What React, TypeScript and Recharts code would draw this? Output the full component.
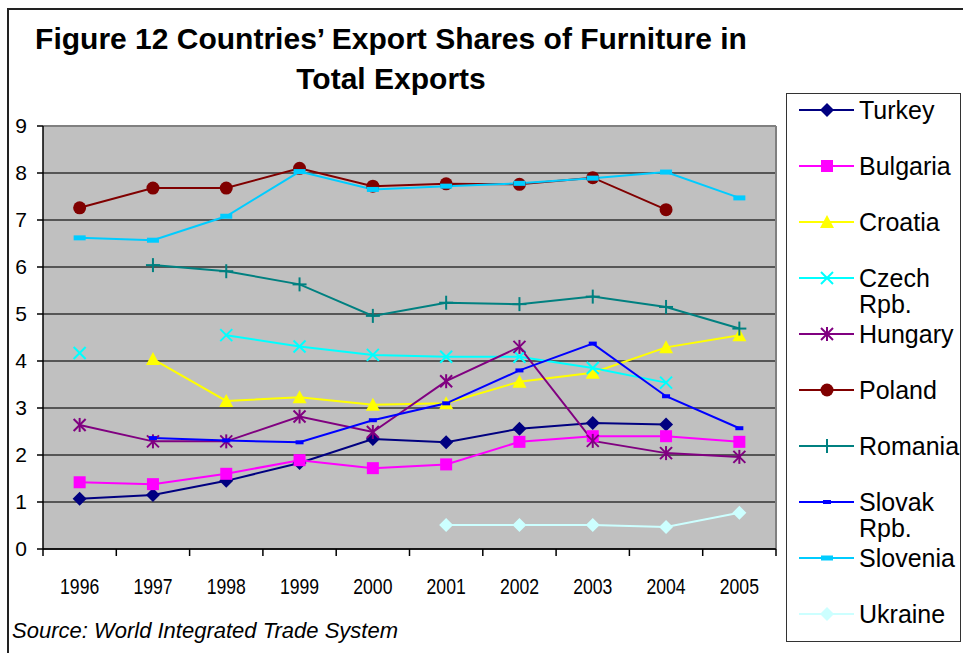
import React from "react";
import {
  LineChart,
  Line,
  XAxis,
  YAxis,
  CartesianGrid,
  Legend,
  ReferenceLine,
} from "recharts";

const years = ["1996", "1997", "1998", "1999", "2000", "2001", "2002", "2003", "2004", "2005"];

const turkey = [1.07, 1.15, 1.45, 1.83, 2.34, 2.27, 2.56, 2.68, 2.65, null];
const bulgaria = [1.42, 1.38, 1.6, 1.89, 1.72, 1.8, 2.28, 2.4, 2.4, 2.28];
const croatia = [null, 4.04, 3.15, 3.23, 3.07, 3.1, 3.56, 3.75, 4.29, 4.55];
const czech = [4.17, null, 4.55, 4.31, 4.13, 4.09, 4.09, 3.85, 3.54, null];
const hungary = [2.64, 2.29, 2.29, 2.82, 2.49, 3.57, 4.3, 2.3, 2.04, 1.96];
const poland = [7.26, 7.68, 7.68, 8.1, 7.72, 7.77, 7.76, 7.9, 7.22, null];
const romania = [null, 6.04, 5.91, 5.63, 4.96, 5.24, 5.21, 5.37, 5.15, 4.69];
const slovak = [null, 2.36, 2.31, 2.27, 2.74, 3.1, 3.8, 4.37, 3.25, 2.57];
const slovenia = [6.62, 6.57, 7.08, 8.03, 7.65, 7.72, 7.78, 7.89, 8.02, 7.47];
const ukraine = [null, null, null, null, null, 0.51, 0.51, 0.51, 0.47, 0.77];

const yTicks = [0, 1, 2, 3, 4, 5, 6, 7, 8, 9];

type Shape = "diamond" | "square" | "triangle" | "x" | "star" | "circle" | "plus" | "dashS" | "dashL";

const series: { name: string; values: (number | null)[]; color: string; shape: Shape }[] = [
  { name: "Turkey", values: turkey, color: "#000080", shape: "diamond" },
  { name: "Bulgaria", values: bulgaria, color: "#FF00FF", shape: "square" },
  { name: "Croatia", values: croatia, color: "#FFFF00", shape: "triangle" },
  { name: "Czech Rpb.", values: czech, color: "#00FFFF", shape: "x" },
  { name: "Hungary", values: hungary, color: "#800080", shape: "star" },
  { name: "Poland", values: poland, color: "#800000", shape: "circle" },
  { name: "Romania", values: romania, color: "#008080", shape: "plus" },
  { name: "Slovak Rpb.", values: slovak, color: "#0000FF", shape: "dashS" },
  { name: "Slovenia", values: slovenia, color: "#00CCFF", shape: "dashL" },
  { name: "Ukraine", values: ukraine, color: "#CCFFFF", shape: "diamond" },
];

const data = years.map((y, i) => {
  const row: Record<string, number | string | null> = { x: i + 0.5, year: y };
  series.forEach((s) => (row[s.name] = s.values[i]));
  return row;
});

// integer ticks = category borders (tick marks), half ticks = year labels
const xTicks = years.flatMap((_, i) => [i, i + 0.5]).concat([years.length]);

function marker(shape: Shape, color: string, cx: number, cy: number, key?: any) {
  switch (shape) {
    case "diamond":
      return <polygon key={key} points={`${cx},${cy - 7} ${cx + 7},${cy} ${cx},${cy + 7} ${cx - 7},${cy}`} fill={color} />;
    case "square":
      return <rect key={key} x={cx - 6} y={cy - 6} width={12} height={12} fill={color} />;
    case "triangle":
      return <polygon key={key} points={`${cx},${cy - 7} ${cx + 7},${cy + 6} ${cx - 7},${cy + 6}`} fill={color} />;
    case "x":
      return (
        <g key={key} stroke={color} strokeWidth={2}>
          <line x1={cx - 6} y1={cy - 6} x2={cx + 6} y2={cy + 6} />
          <line x1={cx - 6} y1={cy + 6} x2={cx + 6} y2={cy - 6} />
        </g>
      );
    case "star":
      return (
        <g key={key} stroke={color} strokeWidth={2}>
          <line x1={cx - 6} y1={cy - 6} x2={cx + 6} y2={cy + 6} />
          <line x1={cx - 6} y1={cy + 6} x2={cx + 6} y2={cy - 6} />
          <line x1={cx} y1={cy - 7} x2={cx} y2={cy + 7} />
        </g>
      );
    case "circle":
      return <circle key={key} cx={cx} cy={cy} r={6.5} fill={color} />;
    case "plus":
      return (
        <g key={key} stroke={color} strokeWidth={2}>
          <line x1={cx - 7} y1={cy} x2={cx + 7} y2={cy} />
          <line x1={cx} y1={cy - 7} x2={cx} y2={cy + 7} />
        </g>
      );
    case "dashS":
      return <rect key={key} x={cx - 4} y={cy - 2} width={8} height={4} fill={color} />;
    case "dashL":
      return <rect key={key} x={cx - 6} y={cy - 2.5} width={12} height={5} fill={color} />;
  }
}

const XTick = (props: any) => {
  const { x, y, payload } = props;
  const v = payload.value as number;
  if (Number.isInteger(v)) {
    return <line x1={x} x2={x} y1={y} y2={y + 7} stroke="#000" strokeWidth={1.5} />;
  }
  return (
    <text
      transform={`translate(${x},${y + 45}) scale(0.8,1)`}
      textAnchor="middle"
      fontFamily="'Liberation Sans', Arial, sans-serif"
      fontSize={22}
      fill="#000"
    >
      {years[Math.floor(v)]}
    </text>
  );
};

const renderLegend = () => (
  <svg width={175} height={549} style={{ display: "block" }}>
    {series.map((s, i) => {
      const cy = 16 + i * 56;
      const words = s.name.split(" ");
      return (
        <g key={s.name}>
          <line x1={12} x2={67} y1={cy} y2={cy} stroke={s.color} strokeWidth={2} />
          {marker(s.shape, s.color, 40, cy)}
          <text x={72} y={cy + 9} fontFamily="'Liberation Sans', Arial, sans-serif" fontSize={25} fill="#000">
            {words.map((w, j) => (
              <tspan key={j} x={72} dy={j === 0 ? 0 : 26}>
                {w}
              </tspan>
            ))}
          </text>
        </g>
      );
    })}
  </svg>
);

export default function App() {
  return (
    <div
      style={{
        position: "fixed",
        left: 0,
        top: 0,
        width: 963,
        height: 653,
        overflow: "hidden",
        background: "#fff",
      }}
    >
      <div
        style={{
          position: "absolute",
          left: 7,
          top: 8,
          width: 1000,
          height: 700,
          borderLeft: "2px solid #222",
          borderTop: "2px solid #222",
        }}
      />
      <div
        style={{
          position: "absolute",
          left: 0,
          width: 782,
          top: 19,
          textAlign: "center",
          fontFamily: "'Liberation Sans', Arial, sans-serif",
          fontWeight: "bold",
          fontSize: 30,
          lineHeight: "40px",
          color: "#000",
        }}
      >
        Figure 12 Countries’ Export Shares of Furniture in
        <br />
        Total Exports
      </div>
      <div
        style={{
          position: "absolute",
          left: 12,
          top: 618,
          fontFamily: "'Liberation Sans', Arial, sans-serif",
          fontStyle: "italic",
          fontSize: 22,
          color: "#000",
          whiteSpace: "nowrap",
        }}
      >
        Source: World Integrated Trade System
      </div>
      <div style={{ position: "absolute", left: 0, top: 0 }}>
        <LineChart width={963} height={653} data={data} margin={{ top: 126, right: 187, left: 0, bottom: 0 }}>
          <CartesianGrid vertical={false} stroke="#333" strokeWidth={1.5} fill="#C0C0C0" />
          <XAxis
            type="number"
            dataKey="x"
            domain={[0, years.length]}
            ticks={xTicks}
            interval={0}
            tickLine={false}
            tickSize={0}
            tickMargin={0}
            tick={<XTick />}
            axisLine={{ stroke: "#000", strokeWidth: 1.5 }}
            height={104}
          />
          <YAxis
            domain={[0, 9]}
            ticks={yTicks}
            interval={0}
            width={43}
            tickSize={6}
            tickMargin={10}
            tickLine={{ stroke: "#000", strokeWidth: 1.5 }}
            axisLine={{ stroke: "#000", strokeWidth: 1.5 }}
            tick={{ fill: "#000", fontSize: 21, fontFamily: "'Liberation Sans', Arial, sans-serif" }}
          />
          <ReferenceLine y={9} stroke="#808080" strokeWidth={2} />
          <ReferenceLine x={years.length} stroke="#808080" strokeWidth={2} />
          {series.map((s) => (
            <Line
              key={s.name}
              type="linear"
              dataKey={s.name}
              stroke={s.color}
              strokeWidth={2}
              connectNulls={false}
              isAnimationActive={false}
              activeDot={false}
              dot={(p: any) =>
                p.cy == null || p.value == null ? (
                  <g key={p.key ?? `${s.name}-${p.index}`} />
                ) : (
                  marker(s.shape, s.color, p.cx, p.cy, p.key ?? `${s.name}-${p.index}`)
                )
              }
            />
          ))}
          <Legend
            layout="vertical"
            align="center"
            verticalAlign="middle"
            content={renderLegend}
            wrapperStyle={{
              position: "absolute",
              left: 786,
              top: 93,
              width: 175,
              height: 549,
              border: "1.5px solid #333",
              background: "#fff",
              boxSizing: "border-box",
            }}
          />
        </LineChart>
      </div>
    </div>
  );
}
